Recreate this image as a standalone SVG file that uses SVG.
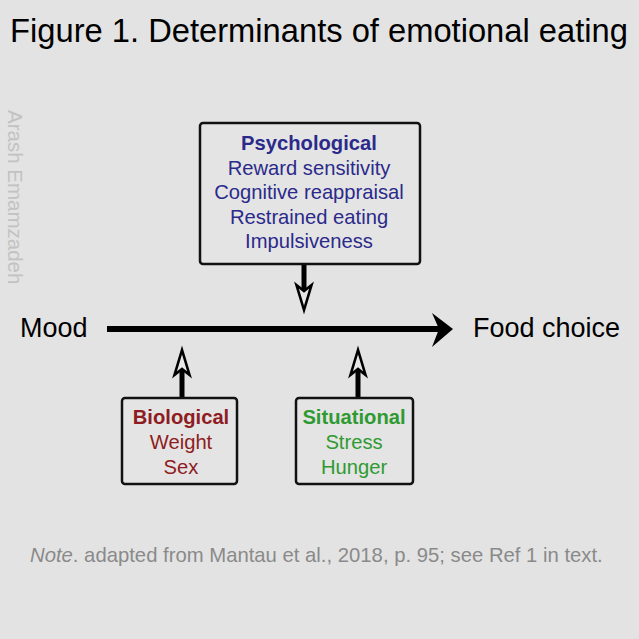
<svg xmlns="http://www.w3.org/2000/svg" width="639" height="639" viewBox="0 0 639 639">
<style>
.box{fill:#e4e4e4;stroke:#111;stroke-width:2.5}
.t{font-family:"Liberation Sans",Arial,sans-serif;text-anchor:middle}
.ps{fill:#2b2a8a;font-size:20.2px}
.bi{fill:#8e1c22;font-size:20.2px}
.si{fill:#2f9a32;font-size:20.2px}
.b{font-weight:bold}
.con{stroke:#000;fill:none}
.open{fill:#e8e8e8;stroke:#000;stroke-width:2.6;stroke-linejoin:miter}
</style>
<rect width="639" height="639" fill="#e3e3e3"/>
<text x="319" y="42" class="t" font-size="32.7" fill="#000">Figure 1. Determinants of emotional eating</text>
<text transform="translate(8,110) rotate(90)" font-family="Liberation Sans,Arial,sans-serif" font-size="20.5" fill="#c2c2c2">Arash Emamzadeh</text>
<g id="connectors">
<line class="con" x1="107" y1="329" x2="440" y2="329" stroke-width="6"/>
<path d="M453,329 L432,313 L439,329 L432,347 Z" fill="#000"/>
<line class="con" x1="304" y1="264" x2="304" y2="291" stroke-width="5"/>
<path class="open" d="M304,310 L296.5,285 L304,291 L311.5,285 Z"/>
<line class="con" x1="182" y1="398" x2="182" y2="369" stroke-width="5"/>
<path class="open" d="M182,350 L174.5,375 L182,369 L189.5,375 Z"/>
<line class="con" x1="358" y1="398" x2="358" y2="369" stroke-width="5"/>
<path class="open" d="M358,350 L350.5,375 L358,369 L365.5,375 Z"/>
</g>
<g id="mood"><text x="20" y="337" font-family="Liberation Sans,Arial,sans-serif" font-size="27" fill="#000">Mood</text></g>
<g id="food"><text x="473" y="337" font-family="Liberation Sans,Arial,sans-serif" font-size="27" fill="#000">Food choice</text></g>
<g id="psychological">
<rect class="box" x="200" y="123" width="220" height="141" rx="3"/>
<text class="t ps b" x="309" y="150">Psychological</text>
<text class="t ps" x="309" y="175">Reward sensitivity</text>
<text class="t ps" x="309" y="199">Cognitive reappraisal</text>
<text class="t ps" x="309" y="224">Restrained eating</text>
<text class="t ps" x="309" y="248">Impulsiveness</text>
</g>
<g id="biological">
<rect class="box" x="122" y="398" width="115" height="86" rx="3"/>
<text class="t bi b" x="181" y="424">Biological</text>
<text class="t bi" x="181" y="449">Weight</text>
<text class="t bi" x="181" y="474">Sex</text>
</g>
<g id="situational">
<rect class="box" x="296" y="398" width="117" height="86" rx="3"/>
<text class="t si b" x="354" y="424">Situational</text>
<text class="t si" x="354" y="449">Stress</text>
<text class="t si" x="354" y="474">Hunger</text>
</g>
<text x="30" y="562" font-family="Liberation Sans,Arial,sans-serif" font-size="20.3" fill="#8a8a8a"><tspan font-style="italic">Note</tspan>. adapted from Mantau et al., 2018, p. 95; see Ref 1 in text.</text>
</svg>
